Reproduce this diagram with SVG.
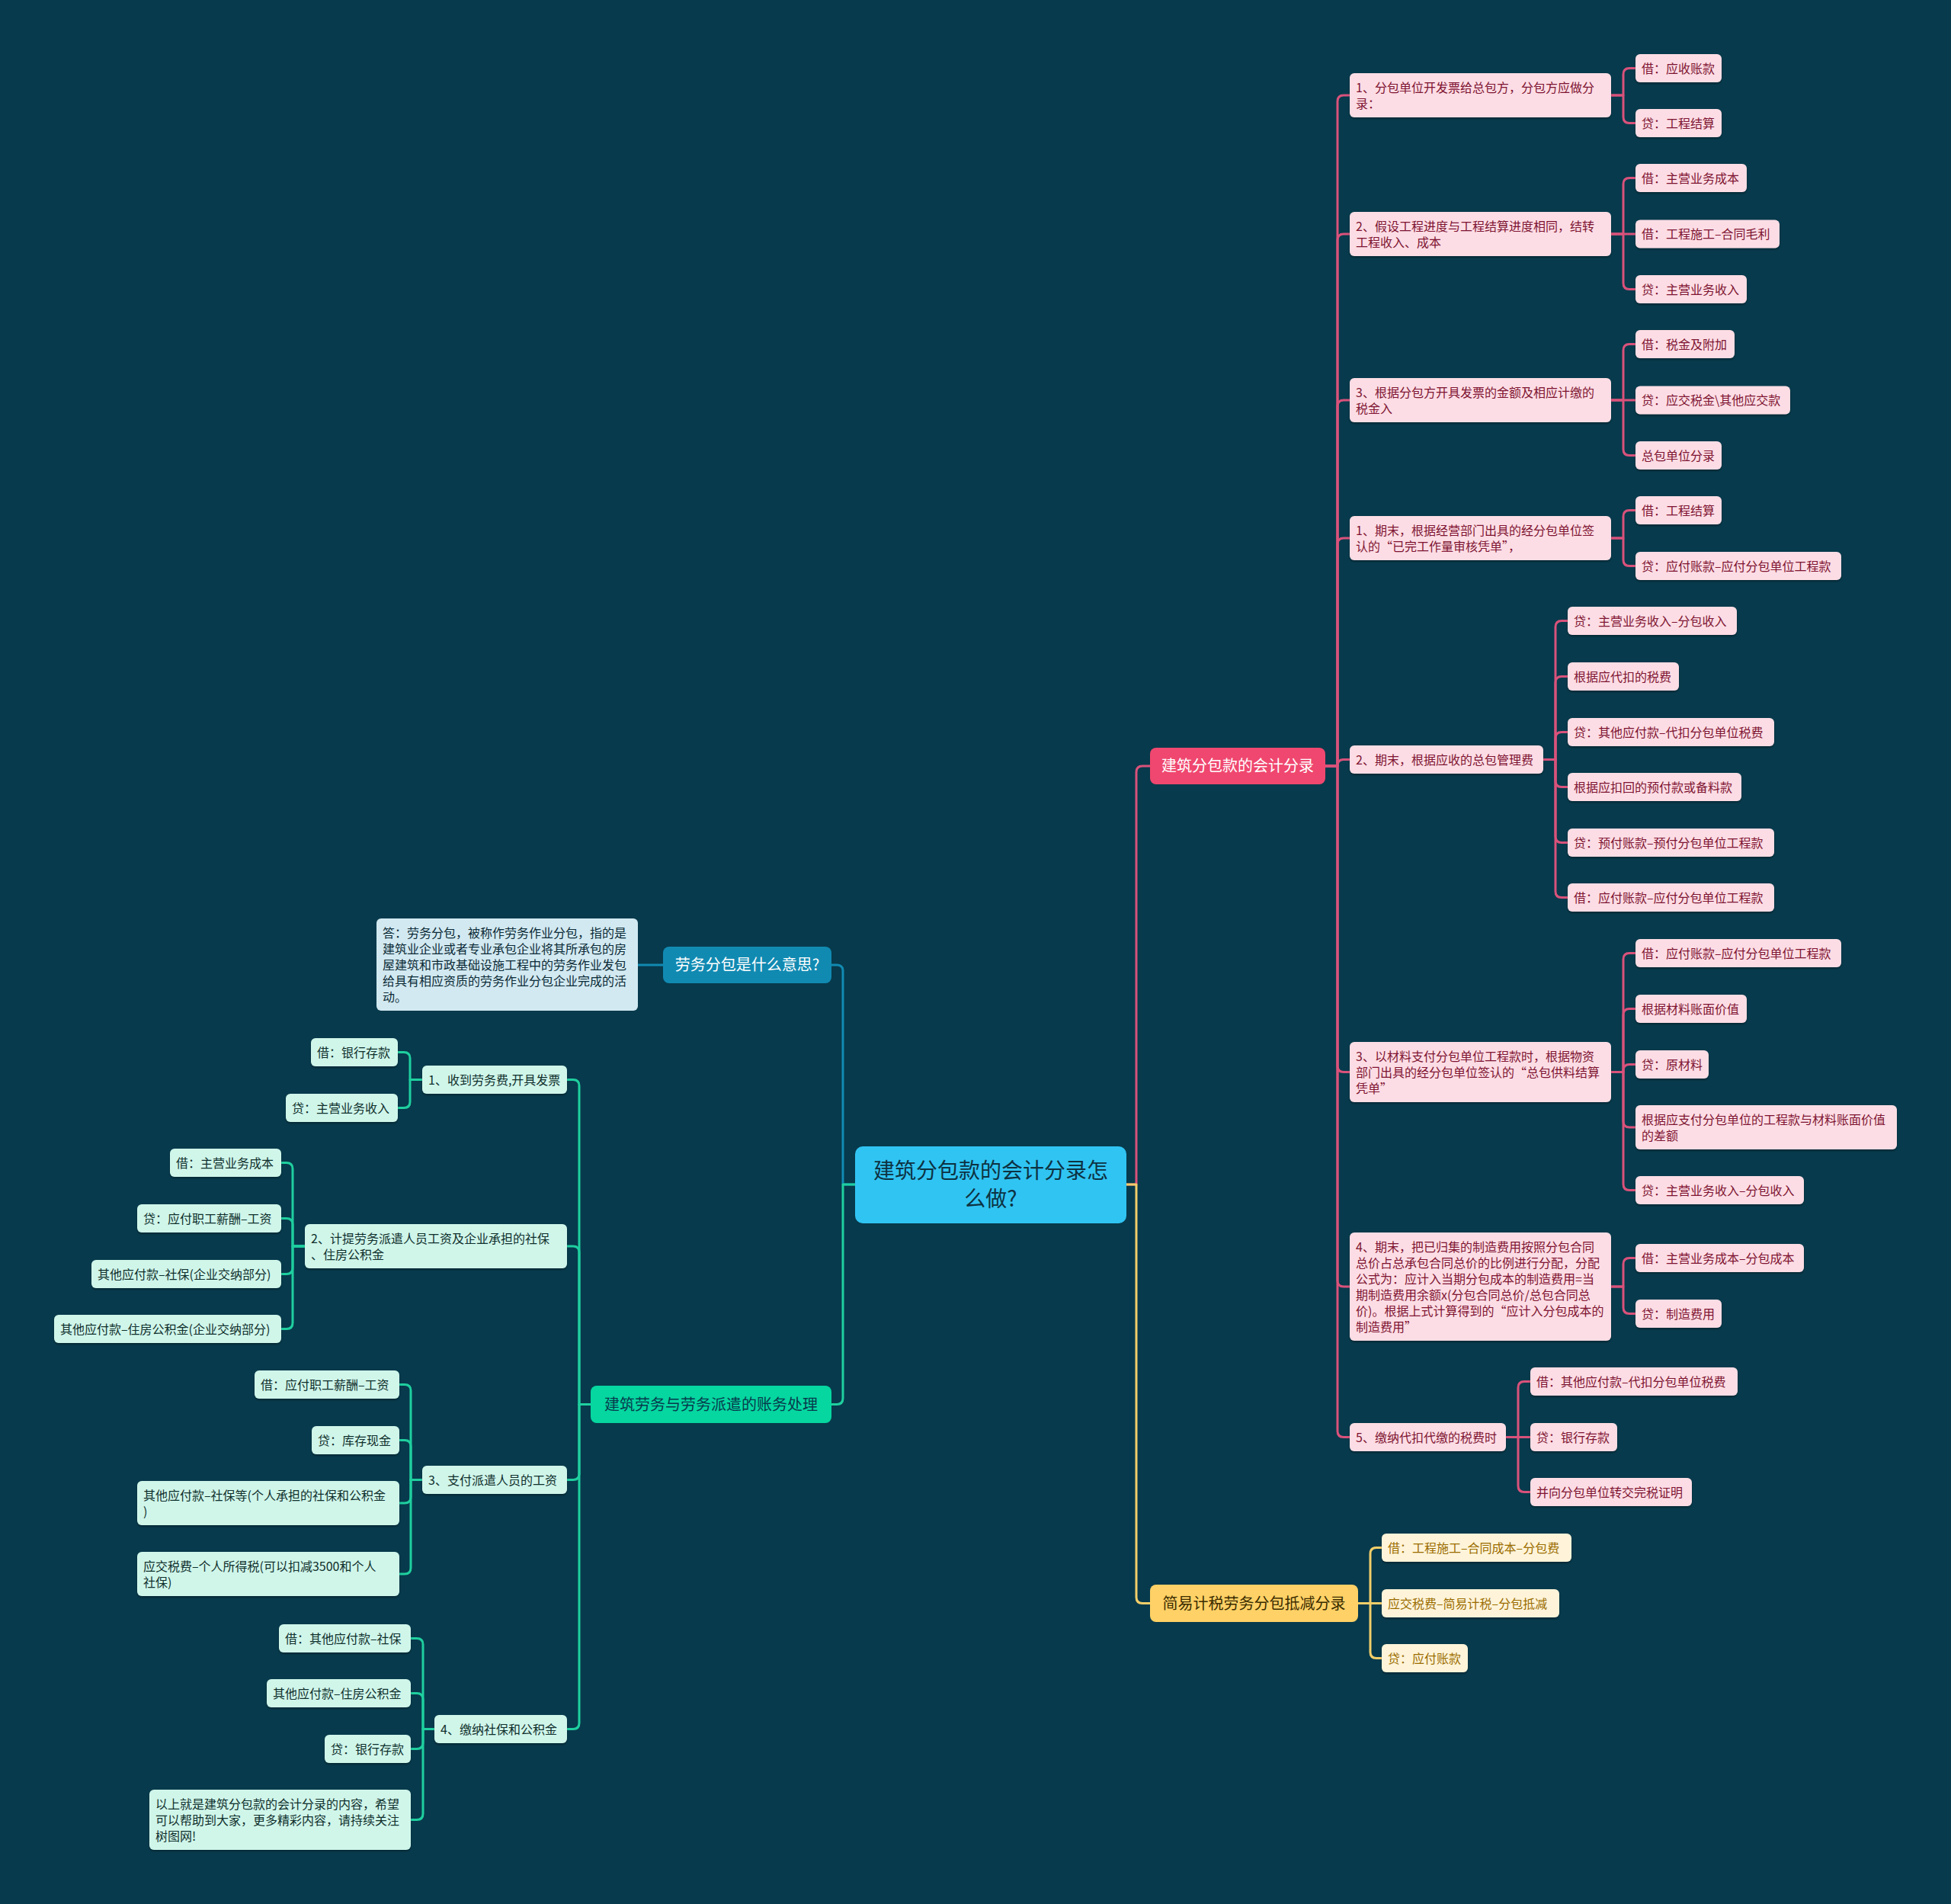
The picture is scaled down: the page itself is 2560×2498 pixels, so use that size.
<svg xmlns="http://www.w3.org/2000/svg" width="2560" height="2498" viewBox="0 0 2560 2498">
<defs>
<filter id="sh" x="-5%" y="-10%" width="110%" height="130%">
<feDropShadow dx="0" dy="2" stdDeviation="1" flood-color="#000" flood-opacity="0.3"/>
</filter>
<style>
text{font-family:"Noto Sans CJK SC","Noto Sans",sans-serif;}
.lf{font-size:16px;}
.big{font-size:20px;text-anchor:middle;}
.c{fill:none;stroke-width:3;stroke-linecap:round;stroke-linejoin:round;}
.cp{stroke:#d9527b;}
.cb{stroke:#118ab2;}
.cg{stroke:#1fcf9f;}
.cy{stroke:#f2ce6a;}
.pr{fill:#fddde5;filter:url(#sh);}
.pt{fill:#7d1331;}
.gr{fill:#d0f6ea;filter:url(#sh);}
.gt{fill:#0f2f2c;}
.yr{fill:#fff4d9;filter:url(#sh);}
.yt{fill:#9a6c00;}
</style>
</defs>
<rect width="2560" height="2498" fill="#073a4c"/>

<g id="connectors">
<!-- center -->
<path class="c cp" d="M1478,1554 H1491 V1013 Q1491,1005 1499,1005 H1509"/>
<path class="c cy" d="M1478,1554 H1491 V2095.5 Q1491,2103.5 1499,2103.5 H1509"/>
<path class="c cb" d="M1122,1554 H1106 V1274 Q1106,1266 1098,1266 H1091"/>
<path class="c cg" d="M1122,1554 H1106 V1834.5 Q1106,1842.5 1098,1842.5 H1091"/>
<path class="c cb" d="M870,1266 H837"/>
<!-- pink level 2 -->
<path class="c cp" d="M1739,1005 H1755 V133 Q1755,125 1763,125 H1771"/>
<path class="c cp" d="M1739,1005 H1755 V315 Q1755,307 1763,307 H1771"/>
<path class="c cp" d="M1739,1005 H1755 V533 Q1755,525 1763,525 H1771"/>
<path class="c cp" d="M1739,1005 H1755 V714 Q1755,706 1763,706 H1771"/>
<path class="c cp" d="M1739,1005 H1755 V1004.5 Q1755,996.5 1763,996.5 H1771"/>
<path class="c cp" d="M1739,1005 H1755 V1398.5 Q1755,1406.5 1763,1406.5 H1771"/>
<path class="c cp" d="M1739,1005 H1755 V1680 Q1755,1688 1763,1688 H1771"/>
<path class="c cp" d="M1739,1005 H1755 V1877.5 Q1755,1885.5 1763,1885.5 H1771"/>
<!-- P1 -->
<path class="c cp" d="M2114,125 H2130 V97.5 Q2130,89.5 2138,89.5 H2146"/>
<path class="c cp" d="M2114,125 H2130 V153.5 Q2130,161.5 2138,161.5 H2146"/>
<!-- P2 -->
<path class="c cp" d="M2114,307 H2130 V241.5 Q2130,233.5 2138,233.5 H2146"/>
<path class="c cp" d="M2114,307 H2146"/>
<path class="c cp" d="M2114,307 H2130 V371.5 Q2130,379.5 2138,379.5 H2146"/>
<!-- P3 -->
<path class="c cp" d="M2114,525 H2130 V459.5 Q2130,451.5 2138,451.5 H2146"/>
<path class="c cp" d="M2114,525 H2146"/>
<path class="c cp" d="M2114,525 H2130 V589.5 Q2130,597.5 2138,597.5 H2146"/>
<!-- P4 -->
<path class="c cp" d="M2114,706 H2130 V677.5 Q2130,669.5 2138,669.5 H2146"/>
<path class="c cp" d="M2114,706 H2130 V734.5 Q2130,742.5 2138,742.5 H2146"/>
<!-- P5 -->
<path class="c cp" d="M2025,996.5 H2041 V822.5 Q2041,814.5 2049,814.5 H2057"/>
<path class="c cp" d="M2025,996.5 H2041 V895.5 Q2041,887.5 2049,887.5 H2057"/>
<path class="c cp" d="M2025,996.5 H2041 V968.5 Q2041,960.5 2049,960.5 H2057"/>
<path class="c cp" d="M2025,996.5 H2041 V1024.5 Q2041,1032.5 2049,1032.5 H2057"/>
<path class="c cp" d="M2025,996.5 H2041 V1097.5 Q2041,1105.5 2049,1105.5 H2057"/>
<path class="c cp" d="M2025,996.5 H2041 V1169.5 Q2041,1177.5 2049,1177.5 H2057"/>
<!-- P6 -->
<path class="c cp" d="M2114,1406.5 H2130 V1258.5 Q2130,1250.5 2138,1250.5 H2146"/>
<path class="c cp" d="M2114,1406.5 H2130 V1331.5 Q2130,1323.5 2138,1323.5 H2146"/>
<path class="c cp" d="M2114,1406.5 H2130 V1404.5 Q2130,1396.5 2138,1396.5 H2146"/>
<path class="c cp" d="M2114,1406.5 H2130 V1471 Q2130,1479 2138,1479 H2146"/>
<path class="c cp" d="M2114,1406.5 H2130 V1553.5 Q2130,1561.5 2138,1561.5 H2146"/>
<!-- P7 -->
<path class="c cp" d="M2114,1688 H2130 V1658.5 Q2130,1650.5 2138,1650.5 H2146"/>
<path class="c cp" d="M2114,1688 H2130 V1715.5 Q2130,1723.5 2138,1723.5 H2146"/>
<!-- P8 -->
<path class="c cp" d="M1976,1885.5 H1992 V1820.5 Q1992,1812.5 2000,1812.5 H2008"/>
<path class="c cp" d="M1976,1885.5 H2008"/>
<path class="c cp" d="M1976,1885.5 H1992 V1949.5 Q1992,1957.5 2000,1957.5 H2008"/>
<!-- yellow -->
<path class="c cy" d="M1782,2103.5 H1798 V2038.5 Q1798,2030.5 1806,2030.5 H1813"/>
<path class="c cy" d="M1782,2103.5 H1813"/>
<path class="c cy" d="M1782,2103.5 H1798 V2167.5 Q1798,2175.5 1806,2175.5 H1813"/>
<!-- green level 2 -->
<path class="c cg" d="M775,1842.5 H760 V1424.5 Q760,1416.5 752,1416.5 H744"/>
<path class="c cg" d="M775,1842.5 H760 V1643 Q760,1635 752,1635 H744"/>
<path class="c cg" d="M775,1842.5 H760 V1933.5 Q760,1941.5 752,1941.5 H744"/>
<path class="c cg" d="M775,1842.5 H760 V2260.5 Q760,2268.5 752,2268.5 H744"/>
<!-- G1 -->
<path class="c cg" d="M554,1416.5 H538 V1388.5 Q538,1380.5 530,1380.5 H522"/>
<path class="c cg" d="M554,1416.5 H538 V1445.5 Q538,1453.5 530,1453.5 H522"/>
<!-- G2 -->
<path class="c cg" d="M400,1635 H384 V1533.5 Q384,1525.5 376,1525.5 H369"/>
<path class="c cg" d="M400,1635 H384 V1606.5 Q384,1598.5 376,1598.5 H369"/>
<path class="c cg" d="M400,1635 H384 V1663.5 Q384,1671.5 376,1671.5 H369"/>
<path class="c cg" d="M400,1635 H384 V1735.5 Q384,1743.5 376,1743.5 H369"/>
<!-- G3 -->
<path class="c cg" d="M554,1941.5 H539 V1824.5 Q539,1816.5 531,1816.5 H524"/>
<path class="c cg" d="M554,1941.5 H539 V1897.5 Q539,1889.5 531,1889.5 H524"/>
<path class="c cg" d="M554,1941.5 H539 V1964 Q539,1972 531,1972 H524"/>
<path class="c cg" d="M554,1941.5 H539 V2057 Q539,2065 531,2065 H524"/>
<!-- G4 -->
<path class="c cg" d="M570,2268.5 H555 V2157.5 Q555,2149.5 547,2149.5 H539"/>
<path class="c cg" d="M570,2268.5 H555 V2229.5 Q555,2221.5 547,2221.5 H539"/>
<path class="c cg" d="M570,2268.5 H555 V2286.5 Q555,2294.5 547,2294.5 H539"/>
<path class="c cg" d="M570,2268.5 H555 V2379.5 Q555,2387.5 547,2387.5 H539"/>
</g>

<g id="center">
<rect x="1122" y="1504" width="356" height="101" rx="10" fill="#30c4f3"/>
<text x="1300" y="1546" font-size="28" text-anchor="middle" fill="#0d3242">建筑分包款的会计分录怎</text>
<text x="1300" y="1583" font-size="28" text-anchor="middle" fill="#0d3242">么做?</text>
</g>

<g id="b-pink">
<rect x="1509" y="981" width="230" height="48" rx="8" fill="#ef476f"/>
<text class="big" x="1624" y="1012" fill="#ffffff">建筑分包款的会计分录</text>
</g>
<g id="b-blue">
<rect x="870" y="1242" width="221" height="48" rx="8" fill="#118ab2"/>
<text class="big" x="980.5" y="1273" fill="#ffffff">劳务分包是什么意思?</text>
</g>
<g id="b-green">
<rect x="775" y="1818" width="316" height="49" rx="8" fill="#06d6a0"/>
<text class="big" x="933" y="1849.5" fill="#073b4c">建筑劳务与劳务派遣的账务处理</text>
</g>
<g id="b-yellow">
<rect x="1509" y="2079" width="273" height="49" rx="8" fill="#ffd166"/>
<text class="big" x="1645.5" y="2110.5" fill="#3a2c00">简易计税劳务分包抵减分录</text>
</g>

<g id="answer">
<rect x="494" y="1205" width="343" height="121" rx="6" fill="#d2e9f1"/>
<text class="lf" x="502" y="1230" fill="#0b2a36">答：劳务分包，被称作劳务作业分包，指的是</text>
<text class="lf" x="502" y="1251" fill="#0b2a36">建筑业企业或者专业承包企业将其所承包的房</text>
<text class="lf" x="502" y="1272" fill="#0b2a36">屋建筑和市政基础设施工程中的劳务作业发包</text>
<text class="lf" x="502" y="1293" fill="#0b2a36">给具有相应资质的劳务作业分包企业完成的活</text>
<text class="lf" x="502" y="1314" fill="#0b2a36">动。</text>
</g>

<!-- pink level 2 -->
<g id="p1"><rect class="pr" x="1771" y="96" width="343" height="58" rx="6"/>
<text class="lf pt" x="1779" y="121">1、分包单位开发票给总包方，分包方应做分</text>
<text class="lf pt" x="1779" y="142">录：</text></g>
<g id="p2"><rect class="pr" x="1771" y="278" width="343" height="58" rx="6"/>
<text class="lf pt" x="1779" y="303">2、假设工程进度与工程结算进度相同，结转</text>
<text class="lf pt" x="1779" y="324">工程收入、成本</text></g>
<g id="p3"><rect class="pr" x="1771" y="496" width="343" height="58" rx="6"/>
<text class="lf pt" x="1779" y="521">3、根据分包方开具发票的金额及相应计缴的</text>
<text class="lf pt" x="1779" y="542">税金入</text></g>
<g id="p4"><rect class="pr" x="1771" y="677" width="343" height="58" rx="6"/>
<text class="lf pt" x="1779" y="702">1、期末，根据经营部门出具的经分包单位签</text>
<text class="lf pt" x="1779" y="723">认的“已完工作量审核凭单”，</text></g>
<g id="p5"><rect class="pr" x="1771" y="978" width="254" height="37" rx="6"/>
<text class="lf pt" x="1779" y="1002.5">2、期末，根据应收的总包管理费</text></g>
<g id="p6"><rect class="pr" x="1771" y="1367" width="343" height="79" rx="6"/>
<text class="lf pt" x="1779" y="1392">3、以材料支付分包单位工程款时，根据物资</text>
<text class="lf pt" x="1779" y="1413">部门出具的经分包单位签认的“总包供料结算</text>
<text class="lf pt" x="1779" y="1434">凭单”</text></g>
<g id="p7"><rect class="pr" x="1771" y="1617" width="343" height="142" rx="6"/>
<text class="lf pt" x="1779" y="1642">4、期末，把已归集的制造费用按照分包合同</text>
<text class="lf pt" x="1779" y="1663">总价占总承包合同总价的比例进行分配，分配</text>
<text class="lf pt" x="1779" y="1684">公式为：应计入当期分包成本的制造费用=当</text>
<text class="lf pt" x="1779" y="1705">期制造费用余额x(分包合同总价/总包合同总</text>
<text class="lf pt" x="1779" y="1726">价)。根据上式计算得到的“应计入分包成本的</text>
<text class="lf pt" x="1779" y="1747">制造费用”</text></g>
<g id="p8"><rect class="pr" x="1771" y="1867" width="205" height="37" rx="6"/>
<text class="lf pt" x="1779" y="1891.5">5、缴纳代扣代缴的税费时</text></g>

<!-- pink leaves -->
<g id="p1a"><rect class="pr" x="2146" y="71" width="113" height="37" rx="6"/><text class="lf pt" x="2154" y="95.5">借：应收账款</text></g>
<g id="p1b"><rect class="pr" x="2146" y="143" width="113" height="37" rx="6"/><text class="lf pt" x="2154" y="167.5">贷：工程结算</text></g>
<g id="p2a"><rect class="pr" x="2146" y="215" width="146" height="37" rx="6"/><text class="lf pt" x="2154" y="239.5">借：主营业务成本</text></g>
<g id="p2b"><rect class="pr" x="2146" y="288.5" width="189" height="37" rx="6"/><text class="lf pt" x="2154" y="313">借：工程施工–合同毛利</text></g>
<g id="p2c"><rect class="pr" x="2146" y="361" width="146" height="37" rx="6"/><text class="lf pt" x="2154" y="385.5">贷：主营业务收入</text></g>
<g id="p3a"><rect class="pr" x="2146" y="433" width="130" height="37" rx="6"/><text class="lf pt" x="2154" y="457.5">借：税金及附加</text></g>
<g id="p3b"><rect class="pr" x="2146" y="506.5" width="203" height="37" rx="6"/><text class="lf pt" x="2154" y="531">贷：应交税金\其他应交款</text></g>
<g id="p3c"><rect class="pr" x="2146" y="579" width="113" height="37" rx="6"/><text class="lf pt" x="2154" y="603.5">总包单位分录</text></g>
<g id="p4a"><rect class="pr" x="2146" y="651" width="113" height="37" rx="6"/><text class="lf pt" x="2154" y="675.5">借：工程结算</text></g>
<g id="p4b"><rect class="pr" x="2146" y="724" width="270" height="37" rx="6"/><text class="lf pt" x="2154" y="748.5">贷：应付账款–应付分包单位工程款</text></g>
<g id="p5a"><rect class="pr" x="2057" y="796" width="222" height="37" rx="6"/><text class="lf pt" x="2065" y="820.5">贷：主营业务收入–分包收入</text></g>
<g id="p5b"><rect class="pr" x="2057" y="869" width="146" height="37" rx="6"/><text class="lf pt" x="2065" y="893.5">根据应代扣的税费</text></g>
<g id="p5c"><rect class="pr" x="2057" y="942" width="271" height="37" rx="6"/><text class="lf pt" x="2065" y="966.5">贷：其他应付款–代扣分包单位税费</text></g>
<g id="p5d"><rect class="pr" x="2057" y="1014" width="228" height="37" rx="6"/><text class="lf pt" x="2065" y="1038.5">根据应扣回的预付款或备料款</text></g>
<g id="p5e"><rect class="pr" x="2057" y="1087" width="271" height="37" rx="6"/><text class="lf pt" x="2065" y="1111.5">贷：预付账款–预付分包单位工程款</text></g>
<g id="p5f"><rect class="pr" x="2057" y="1159" width="271" height="37" rx="6"/><text class="lf pt" x="2065" y="1183.5">借：应付账款–应付分包单位工程款</text></g>
<g id="p6a"><rect class="pr" x="2146" y="1232" width="270" height="37" rx="6"/><text class="lf pt" x="2154" y="1256.5">借：应付账款–应付分包单位工程款</text></g>
<g id="p6b"><rect class="pr" x="2146" y="1305" width="146" height="37" rx="6"/><text class="lf pt" x="2154" y="1329.5">根据材料账面价值</text></g>
<g id="p6c"><rect class="pr" x="2146" y="1378" width="96" height="37" rx="6"/><text class="lf pt" x="2154" y="1402.5">贷：原材料</text></g>
<g id="p6d"><rect class="pr" x="2146" y="1450" width="343" height="58" rx="6"/><text class="lf pt" x="2154" y="1475">根据应支付分包单位的工程款与材料账面价值</text><text class="lf pt" x="2154" y="1496">的差额</text></g>
<g id="p6e"><rect class="pr" x="2146" y="1543" width="221" height="37" rx="6"/><text class="lf pt" x="2154" y="1567.5">贷：主营业务收入–分包收入</text></g>
<g id="p7a"><rect class="pr" x="2146" y="1632" width="221" height="37" rx="6"/><text class="lf pt" x="2154" y="1656.5">借：主营业务成本–分包成本</text></g>
<g id="p7b"><rect class="pr" x="2146" y="1705" width="113" height="37" rx="6"/><text class="lf pt" x="2154" y="1729.5">贷：制造费用</text></g>
<g id="p8a"><rect class="pr" x="2008" y="1794" width="272" height="37" rx="6"/><text class="lf pt" x="2016" y="1818.5">借：其他应付款–代扣分包单位税费</text></g>
<g id="p8b"><rect class="pr" x="2008" y="1867" width="114" height="37" rx="6"/><text class="lf pt" x="2016" y="1891.5">贷：银行存款</text></g>
<g id="p8c"><rect class="pr" x="2008" y="1939" width="212" height="37" rx="6"/><text class="lf pt" x="2016" y="1963.5">并向分包单位转交完税证明</text></g>

<!-- yellow leaves -->
<g id="y1"><rect class="yr" x="1813" y="2012" width="249" height="37" rx="6"/><text class="lf yt" x="1821" y="2036.5">借：工程施工–合同成本–分包费</text></g>
<g id="y2"><rect class="yr" x="1813" y="2085" width="233" height="37" rx="6"/><text class="lf yt" x="1821" y="2109.5">应交税费–简易计税–分包抵减</text></g>
<g id="y3"><rect class="yr" x="1813" y="2157" width="113" height="37" rx="6"/><text class="lf yt" x="1821" y="2181.5">贷：应付账款</text></g>

<!-- green level 2 -->
<g id="g1"><rect class="gr" x="554" y="1398" width="190" height="37" rx="6"/><text class="lf gt" x="562" y="1422.5">1、收到劳务费,开具发票</text></g>
<g id="g2"><rect class="gr" x="400" y="1606" width="344" height="58" rx="6"/><text class="lf gt" x="408" y="1631">2、计提劳务派遣人员工资及企业承担的社保</text><text class="lf gt" x="408" y="1652">、住房公积金</text></g>
<g id="g3"><rect class="gr" x="554" y="1923" width="190" height="37" rx="6"/><text class="lf gt" x="562" y="1947.5">3、支付派遣人员的工资</text></g>
<g id="g4"><rect class="gr" x="570" y="2250" width="174" height="37" rx="6"/><text class="lf gt" x="578" y="2274.5">4、缴纳社保和公积金</text></g>

<!-- green leaves -->
<g id="g1a"><rect class="gr" x="408" y="1362" width="114" height="37" rx="6"/><text class="lf gt" x="416" y="1386.5">借：银行存款</text></g>
<g id="g1b"><rect class="gr" x="375" y="1435" width="147" height="37" rx="6"/><text class="lf gt" x="383" y="1459.5">贷：主营业务收入</text></g>
<g id="g2a"><rect class="gr" x="223" y="1507" width="146" height="37" rx="6"/><text class="lf gt" x="231" y="1531.5">借：主营业务成本</text></g>
<g id="g2b"><rect class="gr" x="180" y="1580" width="189" height="37" rx="6"/><text class="lf gt" x="188" y="1604.5">贷：应付职工薪酬–工资</text></g>
<g id="g2c"><rect class="gr" x="120" y="1653" width="249" height="37" rx="6"/><text class="lf gt" x="128" y="1677.5">其他应付款–社保(企业交纳部分)</text></g>
<g id="g2d"><rect class="gr" x="71" y="1725" width="298" height="37" rx="6"/><text class="lf gt" x="79" y="1749.5">其他应付款–住房公积金(企业交纳部分)</text></g>
<g id="g3a"><rect class="gr" x="334" y="1798" width="190" height="37" rx="6"/><text class="lf gt" x="342" y="1822.5">借：应付职工薪酬–工资</text></g>
<g id="g3b"><rect class="gr" x="409" y="1871" width="115" height="37" rx="6"/><text class="lf gt" x="417" y="1895.5">贷：库存现金</text></g>
<g id="g3c"><rect class="gr" x="180" y="1943" width="344" height="58" rx="6"/><text class="lf gt" x="188" y="1968">其他应付款–社保等(个人承担的社保和公积金</text><text class="lf gt" x="188" y="1989">)</text></g>
<g id="g3d"><rect class="gr" x="180" y="2036" width="344" height="58" rx="6"/><text class="lf gt" x="188" y="2061">应交税费–个人所得税(可以扣减3500和个人</text><text class="lf gt" x="188" y="2082">社保)</text></g>
<g id="g4a"><rect class="gr" x="366" y="2131" width="173" height="37" rx="6"/><text class="lf gt" x="374" y="2155.5">借：其他应付款–社保</text></g>
<g id="g4b"><rect class="gr" x="350" y="2203" width="189" height="37" rx="6"/><text class="lf gt" x="358" y="2227.5">其他应付款–住房公积金</text></g>
<g id="g4c"><rect class="gr" x="426" y="2276" width="113" height="37" rx="6"/><text class="lf gt" x="434" y="2300.5">贷：银行存款</text></g>
<g id="g4d"><rect class="gr" x="196" y="2348" width="343" height="79" rx="6"/><text class="lf gt" x="204" y="2373">以上就是建筑分包款的会计分录的内容，希望</text><text class="lf gt" x="204" y="2394">可以帮助到大家，更多精彩内容，请持续关注</text><text class="lf gt" x="204" y="2415">树图网!</text></g>
</svg>
